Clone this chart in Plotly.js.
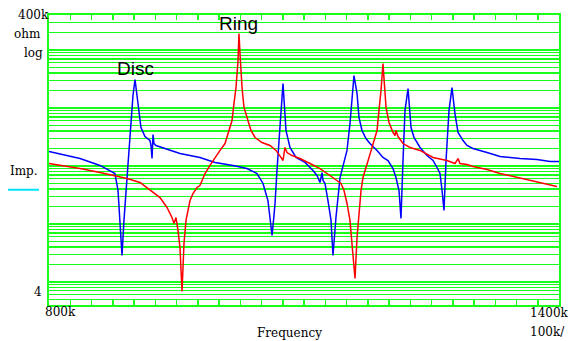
<!DOCTYPE html>
<html>
<head>
<meta charset="utf-8">
<script src="https://cdn.plot.ly/plotly-3.0.1.min.js"></script>
<style>
html,body{margin:0;padding:0;background:#fff;}
#chart{width:570px;height:341px;}
</style>
</head>
<body>
<div id="chart"></div>
<script>
// Frequency in kHz, impedance in ohm
const discFreq = [800,836.5,860,877.6,881.2,883.5,885.9,888.2,890.6,892.9,896.5,898.8,901.2,903.5,905.9,908.2,912.9,918.8,920,921.2,922.4,923.5,925.9,938.8,954.1,977.6,995.3,1016.5,1032.9,1044.7,1051.8,1057.6,1060,1062.4,1064.7,1065.9,1068.2,1071.8,1075.3,1078.8,1083.5,1090.6,1101.2,1110.6,1115.3,1118.8,1121.2,1122.4,1124.7,1128.2,1131.8,1134.1,1137.6,1142.4,1147.1,1150.6,1154.1,1156.5,1158.8,1162.4,1164.7,1168.2,1172.9,1177.6,1185.9,1192.9,1198.8,1204.7,1208.2,1211.8,1214.1,1216.5,1218.8,1222.4,1225.9,1229.4,1236.5,1244.7,1251.8,1256.5,1260,1262.4,1264.7,1267.1,1270.6,1274.1,1277.6,1281.2,1287.1,1291.8,1298.8,1315.3,1330.6,1354.1,1374.1,1389.4,1400];
const discImp = [1770,1340,1020,740,377,115,28.5,115,377,1020,6070,16400,30900,16400,7390,4590,3210,2740,2250,1340,3480,2430,2250,1920,1640,1400,1150,1020,902,740,498,253,129,63.1,140,225,834,4080,26400,4080,2080,1400,1150,834,684,518,769,561,498,253,115,28.5,129,631,1240,1850,5380,15100,36200,17700,6840,4080,2970,2430,1850,1400,1240,902,631,377,124,1240,9000,21600,4590,3090,2080,1510,1240,940,740,377,170,1240,9000,22500,7990,3770,2740,2250,2000,1700,1450,1340,1290,1190,1190];

const ringFreq = [800,836.5,860,875.3,891.8,907.1,915.3,922.4,930.6,938.8,944.7,947.1,949.4,951.8,954.1,956.5,958.8,961.2,963.5,965.9,969.4,974.1,977.6,983.5,989.4,995.3,1001.2,1007.1,1011.8,1015.3,1017.6,1020,1022.4,1023.5,1024.7,1027.1,1029.4,1032.9,1037.6,1042.4,1050.6,1060,1067.1,1072.9,1075.3,1077.6,1080,1085.9,1095.3,1107.1,1118.8,1127.1,1134.1,1138.8,1143.5,1147.1,1150.6,1154.1,1156.5,1160,1162.4,1164.7,1167.1,1169.4,1172.9,1176.5,1180,1183.5,1185.9,1188.2,1190.6,1192.9,1194.1,1196.5,1200,1204.7,1207.1,1208.2,1210.6,1216.5,1224.7,1236.5,1251.8,1268.2,1277.6,1281.2,1283.5,1291.8,1298.8,1315.3,1330.6,1350.6,1365.9,1381.2,1397.6];
const ringImp = [1100,902,769,684,607,518,425,348,285,192,129,102,129,76.9,39.2,6.84,45.9,115,170,253,334,425,459,740,1020,1400,1850,2430,4080,6070,11900,22500,65800,192000,86700,22500,10200,6580,4080,3090,2530,2250,1850,1400,1240,2080,1700,1510,1340,1100,902,740,631,561,498,377,225,115,39.2,11.5,58.3,170,377,631,902,1400,2080,2970,4080,9000,19950,58300,33400,10200,5610,3770,3340,4080,3210,2430,2080,1850,1400,1240,1100,1340,1100,1060,977,867,740,631,561,498,442];

const xTickLabels = ['800k','1400k'];
const yTickLabels = ['400k','4'];

const green = '#1aff1a';
const yGrid = [];
for (let e = 0; e <= 5; e++) {
  for (let k = 1; k <= 9; k++) {
    const v = k * Math.pow(10, e);
    if (v >= 4 && v <= 400000) yGrid.push(v);
  }
}

const traces = [
  {x: discFreq, y: discImp, type: 'scatter', mode: 'lines', name: 'Disc',
   line: {color: '#0000ff', width: 1.5}},
  {x: ringFreq, y: ringImp, type: 'scatter', mode: 'lines', name: 'Ring',
   line: {color: '#ff0000', width: 1.5}}
];

const serif = 'DejaVu Serif, serif';
const layout = {
  width: 570, height: 341,
  margin: {l: 49, r: 11, t: 15, b: 36, pad: 0},
  paper_bgcolor: '#ffffff', plot_bgcolor: '#ffffff',
  showlegend: false,
  xaxis: {
    range: [800, 1400], dtick: 25, tick0: 800,
    showgrid: false, zeroline: false, showticklabels: false,
    ticks: 'inside', ticklen: 5, tickcolor: green, tickwidth: 1.5,
    showline: true, linecolor: green, linewidth: 2, mirror: 'allticks'
  },
  xaxis2: {
    overlaying: 'x', matches: 'x', range: [800, 1400], dtick: 100, tick0: 800,
    showgrid: true, gridcolor: green, gridwidth: 1.5,
    zeroline: false, showticklabels: false, ticks: '', showline: false
  },
  yaxis: {
    type: 'log', range: [Math.log10(4), Math.log10(400000)],
    tickmode: 'array', tickvals: yGrid, showticklabels: false, ticks: '',
    showgrid: true, gridcolor: green, gridwidth: 1.2, zeroline: false,
    showline: true, linecolor: green, linewidth: 2, mirror: true
  },
  annotations: [
    {text: yTickLabels[0], xref: 'paper', yref: 'paper', x: 0, y: 1.0, xanchor: 'right', yanchor: 'middle', xshift: 2, showarrow: false, font: {family: serif, size: 12, color: '#000'}},
    {text: 'ohm', xref: 'paper', yref: 'paper', x: -0.042, y: 0.934, xanchor: 'center', yanchor: 'middle', showarrow: false, font: {family: serif, size: 12, color: '#000'}},
    {text: 'log', xref: 'paper', yref: 'paper', x: -0.031, y: 0.869, xanchor: 'center', yanchor: 'middle', showarrow: false, font: {family: serif, size: 12, color: '#000'}},
    {text: 'Imp.', xref: 'paper', yref: 'paper', x: -0.049, y: 0.462, xanchor: 'center', yanchor: 'middle', showarrow: false, font: {family: serif, size: 12, color: '#000'}},
    {text: yTickLabels[1], xref: 'paper', yref: 'paper', x: -0.0216, y: 0.045, xanchor: 'center', yanchor: 'middle', showarrow: false, font: {family: serif, size: 12, color: '#000'}},
    {text: xTickLabels[0], xref: 'paper', yref: 'paper', x: 0.0235, y: -0.024, xanchor: 'center', yanchor: 'middle', showarrow: false, font: {family: serif, size: 12, color: '#000'}},
    {text: xTickLabels[1], xref: 'paper', yref: 'paper', x: 0.981, y: -0.0276, xanchor: 'center', yanchor: 'middle', showarrow: false, font: {family: serif, size: 12, color: '#000'}},
    {text: '100k/', xref: 'paper', yref: 'paper', x: 0.978, y: -0.093, xanchor: 'center', yanchor: 'middle', showarrow: false, font: {family: serif, size: 12, color: '#000'}},
    {text: 'Frequency', xref: 'paper', yref: 'paper', x: 0.4725, y: -0.0966, xanchor: 'center', yanchor: 'middle', showarrow: false, font: {family: serif, size: 12, color: '#000'}},
    {text: 'Disc', xref: 'paper', yref: 'paper', x: 0.1696, y: 0.817, xanchor: 'center', yanchor: 'middle', showarrow: false, font: {family: 'Liberation Sans, Arial, sans-serif', size: 19, color: '#000'}},
    {text: 'Ring', xref: 'paper', yref: 'paper', x: 0.3716, y: 0.969, xanchor: 'center', yanchor: 'middle', showarrow: false, font: {family: 'Liberation Sans, Arial, sans-serif', size: 19, color: '#000'}}
  ],
  shapes: [
    {type: 'line', xref: 'paper', yref: 'paper', x0: -0.0804, x1: -0.0196, y0: 0.397, y1: 0.397, line: {color: '#00e5ff', width: 2}}
  ]
};

Plotly.newPlot('chart', traces, layout, {staticPlot: true, displayModeBar: false});
</script>
</body>
</html>
